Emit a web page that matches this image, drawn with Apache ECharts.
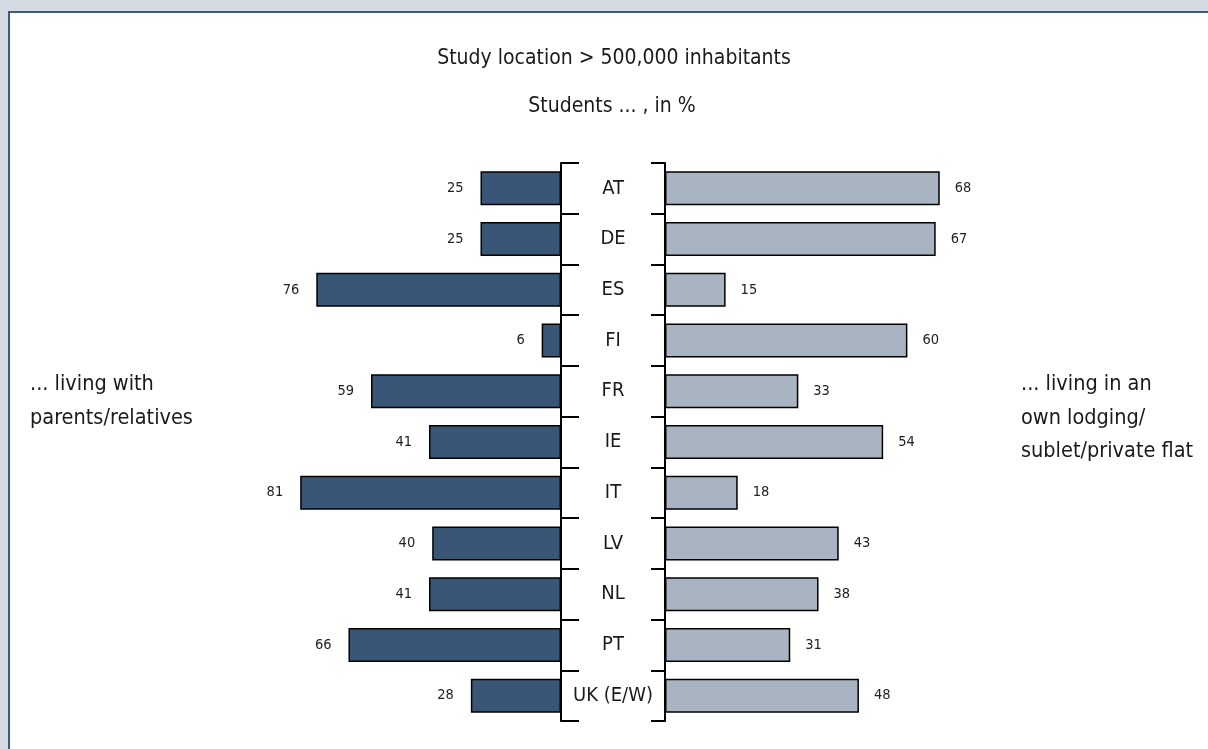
<!DOCTYPE html>
<html>
<head>
<meta charset="utf-8">
<script src="https://cdn.jsdelivr.net/npm/echarts@6/dist/echarts.min.js"></script>
<style>
html,body{margin:0;padding:0;background:#d3dae2;width:1208px;height:749px;overflow:hidden;}
#panel{position:absolute;left:8px;top:11px;width:1200px;height:738px;background:#fff;border-left:2px solid #3d5a7e;border-top:2px solid #3d5a7e;}
#chart{position:absolute;left:0;top:0;width:1208px;height:749px;}
</style>
</head>
<body>
<div id="panel"></div>
<div id="chart"></div>
<script>
const categories = ['AT','DE','ES','FI','FR','IE','IT','LV','NL','PT','UK (E/W)'];
const withParents = [25,25,76,6,59,41,81,40,41,66,28];
const ownLodging = [68,67,15,60,33,54,18,43,38,31,48];
const titleLines = ['Study location > 500,000 inhabitants','Students ... , in %'];
const leftLabel = '... living with\nparents/relatives';
const rightLabel = '... living in an\nown lodging/\nsublet/private flat';

const FONT = '"DejaVu Sans Condensed","Liberation Sans Narrow","Liberation Sans",sans-serif';
const chart = echarts.init(document.getElementById('chart'), null, {renderer:'canvas'});
const axisStyle = {color:'#000', width:2};
chart.setOption({
  backgroundColor:'transparent',
  animation:false,
  textStyle:{fontFamily:FONT},
  grid:[
    {left:239, width:322, top:163, height:558},
    {left:665, width:404, top:163, height:558}
  ],
  xAxis:[
    {gridIndex:0, type:'value', min:0, max:100, inverse:true, show:false},
    {gridIndex:1, type:'value', min:0, max:100, show:false}
  ],
  yAxis:[
    {gridIndex:0, type:'category', data:categories, inverse:true, position:'right',
     axisLine:{lineStyle:axisStyle}, axisTick:{show:true, length:18, lineStyle:axisStyle},
     axisLabel:{margin:52, align:'center', fontSize:20, color:'#1a1a1a', fontFamily:FONT}},
    {gridIndex:1, type:'category', data:categories, inverse:true, position:'left',
     axisLine:{lineStyle:axisStyle}, axisTick:{show:true, length:14, lineStyle:axisStyle},
     axisLabel:{show:false}}
  ],
  series:[
    {type:'bar', xAxisIndex:0, yAxisIndex:0, data:withParents, barCategoryGap:'33%',
     itemStyle:{color:'#3a5676', borderColor:'#000', borderWidth:1.5},
     label:{show:true, position:'outside', distance:17, fontSize:14.5, color:'#222', fontFamily:FONT}},
    {type:'bar', xAxisIndex:1, yAxisIndex:1, data:ownLodging, barCategoryGap:'33%',
     itemStyle:{color:'#a8b4c1', borderColor:'#000', borderWidth:1.5},
     label:{show:true, position:'outside', distance:15, fontSize:14.5, color:'#222', fontFamily:FONT}}
  ],
  graphic:[
    {type:'text', x:614, y:59, style:{text:titleLines[0], font:'21px '+FONT, fill:'#1a1a1a', textAlign:'center', textVerticalAlign:'middle'}},
    {type:'text', x:612, y:107, style:{text:titleLines[1], font:'21px '+FONT, fill:'#1a1a1a', textAlign:'center', textVerticalAlign:'middle'}},
    {type:'text', x:30, y:401, style:{text:leftLabel, font:'21.5px '+FONT, lineHeight:34, fill:'#1a1a1a', textAlign:'left', textVerticalAlign:'middle'}},
    {type:'text', x:1021, y:418, style:{text:rightLabel, font:'21.5px '+FONT, lineHeight:33.5, fill:'#1a1a1a', textAlign:'left', textVerticalAlign:'middle'}}
  ]
});
</script>
</body>
</html>
